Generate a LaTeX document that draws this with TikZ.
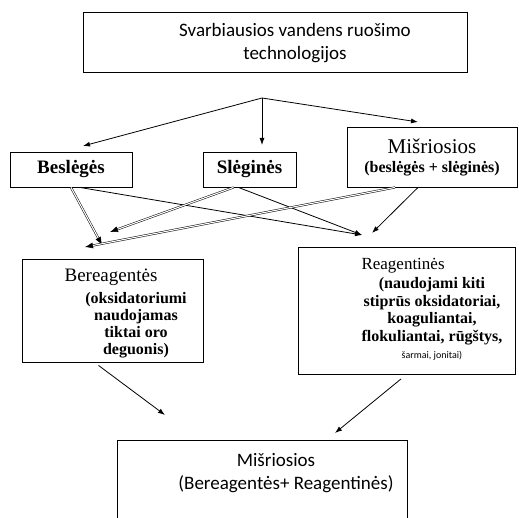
\documentclass[tikz,border=0pt]{standalone}
\usepackage{fontspec}
\setmainfont{Liberation Serif}
\newfontfamily\calibri{Carlito}
\usetikzlibrary{arrows.meta}
\tikzset{langas/.style={draw, line width=0.9pt, inner sep=0pt},
  rodykle/.style={->, line width=0.8pt},
  dviguba/.style={-{Latex[length=8pt,width=6pt]}, double, double distance=1.1pt, line width=0.5pt},
  >={Latex[length=7pt,width=5pt]}}

\begin{document}
\begin{tikzpicture}[x=1pt, y=-1pt]
  \useasboundingbox (0,0) rectangle (519,518);
  \node[langas, minimum width=384pt, minimum height=60pt] (svarbiausios) at (275,42) {};
  \node[font=\calibri\fontsize{19}{23}\selectfont, align=center] (svarbiausios_txt) at (295,43) {Svarbiausios vandens ruošimo\\technologijos};
  \node[langas, minimum width=122pt, minimum height=35pt, font=\fontsize{19}{20}\selectfont\bfseries] (besleges) at (71,169.5) {Beslėgės};
  \node[langas, minimum width=93pt, minimum height=35pt, font=\fontsize{19}{20}\selectfont\bfseries] (slegines) at (249.5,169.5) {Slėginės};
  \node[langas, minimum width=170pt, minimum height=60pt, align=center, font=\fontsize{16}{19}\selectfont] (misriosios) at (432,157) {{\fontsize{21}{21}\selectfont Mišriosios}\\{\bfseries (beslėgės + slėginės)}};
  \node[langas, minimum width=181pt, minimum height=103pt] (bereagentes) at (112.5,310.5) {};
  \node[anchor=base, font=\fontsize{19}{20}\selectfont] (bereagentes_txt) at (111,282) {Bereagentės};
  \node[align=center, font=\fontsize{16}{17}\selectfont\bfseries] (bereagentes_pl) at (136,325) {(oksidatoriumi\\naudojamas\\tiktai oro\\deguonis)};
  \node[langas, minimum width=217pt, minimum height=127pt] (reagentines) at (406.5,310.5) {};
  \node[anchor=base west, font=\fontsize{17}{18}\selectfont] (reagentines_txt) at (358,270) {Reagentinės};
  \node[align=center, font=\fontsize{16}{17.5}\selectfont\bfseries] (reagentines_pl) at (432,319) {(naudojami kiti\\stiprūs oksidatoriai,\\koaguliantai,\\flokuliantai, rūgštys,\\{\calibri\mdseries\fontsize{10}{12}\selectfont šarmai, jonitai)}};
  \node[langas, minimum width=290pt, minimum height=100pt] (misriosios_br) at (262,490) {};
  \node[align=center, font=\calibri\fontsize{19}{23}\selectfont] (misriosios_br_txt) at (286,473) {\hspace*{-20pt}Mišriosios\\(Bereagentės+ Reagentinės)};
  \coordinate (sakos) at (262,98);
  \coordinate (i_besleges) at (83,146);
  \coordinate (i_slegines) at (262,145);
  \coordinate (i_misriosios) at (418,122);
  \coordinate (i_bereag1) at (102,245);
  \coordinate (i_bereag2) at (110,232);
  \coordinate (i_bereag3) at (85,247);
  \coordinate (i_reag1) at (362,235);
  \coordinate (i_reag2) at (372,233);
  \coordinate (i_misr1) at (165,415);
  \coordinate (i_misr2) at (335,433);
  \draw[rodykle] (sakos) -- (i_besleges);
  \draw[rodykle] (sakos) -- (i_slegines);
  \draw[rodykle] (sakos) -- (i_misriosios);
  \draw[dviguba] (besleges.south) -- (i_bereag1);
  \draw[rodykle] ([xshift=9pt]besleges.south) -- (i_reag1);
  \draw[dviguba] ([xshift=-16pt]slegines.south) -- (i_bereag2);
  \draw[rodykle] ([xshift=-11pt]slegines.south) -- (i_reag1);
  \draw[dviguba] ([xshift=-37pt]misriosios.south) -- (i_bereag3);
  \draw[rodykle] ([xshift=-14pt]misriosios.south) -- (i_reag2);
  \draw[rodykle, shorten <=5pt] ([xshift=-18pt]bereagentes.south) -- (i_misr1);
  \draw[rodykle, shorten <=7pt] (reagentines.south) -- (i_misr2);
\end{tikzpicture}
\end{document}
